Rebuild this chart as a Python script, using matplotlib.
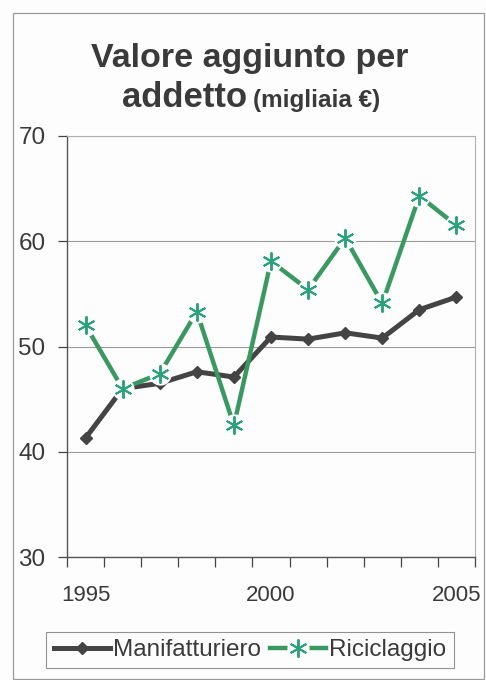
import matplotlib
matplotlib.use("Agg")
import matplotlib.pyplot as plt
from matplotlib.patches import Rectangle
from matplotlib.lines import Line2D

years = [1995, 1996, 1997, 1998, 1999, 2000, 2001, 2002, 2003, 2004, 2005]
manifatturiero = [41.3, 46.0, 46.5, 47.6, 47.1, 50.9, 50.7, 51.3, 50.8, 53.5, 54.7]
riciclaggio = [52.0, 46.0, 47.4, 53.3, 42.5, 58.1, 55.4, 60.3, 54.1, 64.3, 61.5]
year_labels = ["1995", "2000", "2005"]
y_ticks = [30, 40, 50, 60, 70]

plt.rcParams['font.family'] = ['Liberation Sans', 'DejaVu Sans']

W, H = 486, 680
BG = '#fdfdfd'
DARK = '#444444'
GREEN = '#3a9960'
TEAL = '#2aa27a'
TXT = '#3a3a3a'

fig = plt.figure(figsize=(W / 100, H / 100), dpi=100)
fig.patch.set_facecolor(BG)

fig.add_artist(Rectangle((12.5 / W, 1 - 679 / H), (484 - 12.5) / W, (679 - 13) / H,
                         transform=fig.transFigure, fill=False,
                         edgecolor='#9a9a9a', linewidth=0.9))

ax = fig.add_axes([67 / W, 1 - 557 / H, (475 - 67) / W, (557 - 136) / H])
ax.set_facecolor(BG)

idx = list(range(len(years)))
ax.plot(idx, manifatturiero, color=DARK, linewidth=3.6, marker='D',
        markersize=6, markerfacecolor=DARK, markeredgecolor=DARK,
        solid_capstyle='round', zorder=3)
ax.plot(idx, riciclaggio, color=GREEN, linewidth=3.2, zorder=4)
# white halo around the asterisk markers (as in the scanned original)
ax.plot(idx, riciclaggio, linestyle='none', marker='o', markersize=16,
        markerfacecolor=BG, markeredgewidth=0, zorder=5)
ax.plot(idx, riciclaggio, linestyle='none', marker=(6, 2, 0), markersize=13,
        markeredgewidth=1.4, markeredgecolor=TEAL, zorder=6)

ax.set_xlim(-0.5, len(years) - 0.5)
ax.set_ylim(30, 70)
ax.set_yticks(y_ticks)
ax.set_yticklabels([str(v) for v in y_ticks])
ax.set_xticks([years.index(int(y)) for y in year_labels])
ax.set_xticklabels(year_labels)
ax.set_xticks([i - 0.5 for i in range(len(years) + 1)], minor=True)

ax.tick_params(axis='x', which='major', length=0, pad=20, labelsize=16,
               labelcolor=TXT)
ax.tick_params(axis='x', which='minor', direction='out', length=7,
               color='#444444', width=0.9)
ax.tick_params(axis='y', direction='out', length=6.5, color='#444444',
               width=0.9, pad=9, labelsize=17.5, labelcolor=TXT)

ax.grid(axis='y', color='#9a9a9a', linewidth=0.8)
ax.set_axisbelow(True)
for s in ['top', 'right']:
    ax.spines[s].set_color('#b0b0b0')
    ax.spines[s].set_linewidth(0.8)
for s in ['left', 'bottom']:
    ax.spines[s].set_color('#555555')
    ax.spines[s].set_linewidth(1.0)

fig.text(250 / W, 1 - 67 / H, 'Valore aggiunto per', ha='center', va='baseline',
         fontsize=24.5, fontweight='bold', color=TXT)
fig.text(247 / W, 1 - 107 / H, 'addetto', ha='right', va='baseline',
         fontsize=25, fontweight='bold', color=TXT)
fig.text(253 / W, 1 - 107 / H, '(migliaia €)', ha='left', va='baseline',
         fontsize=17.5, fontweight='bold', color=TXT)

h_man = Line2D([], [], color=DARK, linewidth=3.6, marker='D', markersize=6,
               markerfacecolor=DARK, markeredgecolor=DARK)
h_ric_line = Line2D([], [], color=GREEN, linewidth=3.2)
h_ric_halo = Line2D([], [], linestyle='none', marker='o', markersize=16,
                    markerfacecolor=BG, markeredgewidth=0)
h_ric_mark = Line2D([], [], linestyle='none', marker=(6, 2, 0), markersize=13,
                    markeredgewidth=1.4, markeredgecolor=TEAL)

leg = fig.legend([h_man, (h_ric_line, h_ric_halo, h_ric_mark)],
                 ['Manifatturiero', 'Riciclaggio'],
                 loc='center', bbox_to_anchor=(250 / W, 1 - 650 / H),
                 ncol=2, frameon=True, fancybox=False, fontsize=17.5,
                 handlelength=2.3, handletextpad=0.15, columnspacing=0.35,
                 borderpad=0.3, labelcolor=TXT, borderaxespad=0)
leg.get_frame().set_edgecolor('#777777')
leg.get_frame().set_linewidth(0.8)
leg.get_frame().set_facecolor(BG)

fig.savefig('out.png', dpi=100, facecolor=fig.get_facecolor())
